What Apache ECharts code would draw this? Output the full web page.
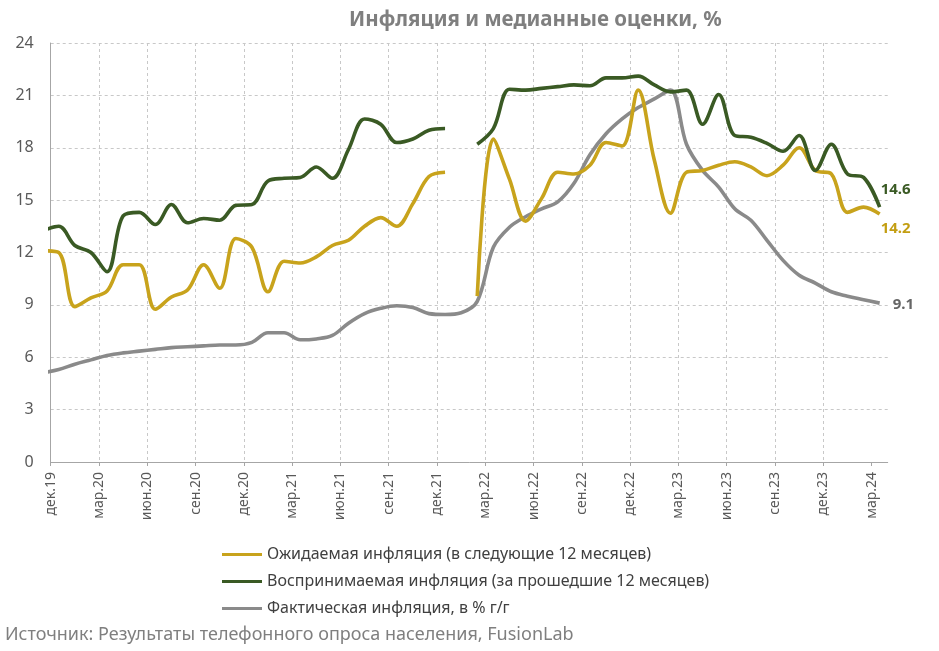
<!DOCTYPE html>
<html lang="ru">
<head>
<meta charset="UTF-8">
<title>Инфляция и медианные оценки</title>
<script src="https://cdn.jsdelivr.net/npm/echarts@6/dist/echarts.min.js"></script>
<style>
  html, body { margin: 0; padding: 0; background: #fff; }
  #main { width: 939px; height: 651px; }
</style>
</head>
<body>
<div id="main"></div>
<script>
// месяцы опроса (ноя.19 нужен только для начала линии у левого края)
var months = [
  'ноя.19', 'дек.19',
  'янв.20', 'фев.20', 'мар.20', 'апр.20', 'май.20', 'июн.20', 'июл.20', 'авг.20', 'сен.20', 'окт.20', 'ноя.20', 'дек.20',
  'янв.21', 'фев.21', 'мар.21', 'апр.21', 'май.21', 'июн.21', 'июл.21', 'авг.21', 'сен.21', 'окт.21', 'ноя.21', 'дек.21',
  'янв.22', 'фев.22', 'мар.22', 'апр.22', 'май.22', 'июн.22', 'июл.22', 'авг.22', 'сен.22', 'окт.22', 'ноя.22', 'дек.22',
  'янв.23', 'фев.23', 'мар.23', 'апр.23', 'май.23', 'июн.23', 'июл.23', 'авг.23', 'сен.23', 'окт.23', 'ноя.23', 'дек.23',
  'янв.24', 'фев.24', 'мар.24'
];

// подписи оси X (каждые 3 месяца, начиная с дек.19)
var tickLabels = ['дек.19', 'мар.20', 'июн.20', 'сен.20', 'дек.20', 'мар.21', 'июн.21', 'сен.21', 'дек.21',
  'мар.22', 'июн.22', 'сен.22', 'дек.22', 'мар.23', 'июн.23', 'сен.23', 'дек.23', 'мар.24'];

// Ожидаемая инфляция (в следующие 12 месяцев)
var expected = [
  12.1, 12.0,
  8.9, 9.4, 9.8, 11.3, 11.3, 8.75, 9.45, 9.85, 11.3, 9.95, 12.8, 12.3,
  9.75, 11.5, 11.4, 11.75, 12.4, 12.7, 13.5, 14.0, 13.5, 14.8, 16.35, 16.6,
  null, 9.5, 18.5, 16.2, 13.8, 15.1, 16.6, 16.5, 17.0, 18.3, 18.1, 21.3,
  17.3, 14.25, 16.6, 16.7, 17.0, 17.2, 16.9, 16.4, 17.0, 18.0, 16.7, 16.5,
  14.3, 14.6, 14.2
];

// Воспринимаемая инфляция (за прошедшие 12 месяцев)
var perceived = [
  13.25, 13.5,
  12.4, 12.0, 10.9, 14.1, 14.3, 13.6, 14.75, 13.7, 13.95, 13.85, 14.7, 14.75,
  16.1, 16.25, 16.3, 16.9, 16.25, 17.9, 19.65, 19.35, 18.3, 18.5, 19.0, 19.1,
  null, 18.2, 19.1, 21.35, 21.3, 21.4, 21.5, 21.6, 21.55, 22.0, 22.0, 22.1,
  21.6, 21.2, 21.3, 19.35, 21.05, 18.7, 18.6, 18.25, 17.8, 18.7, 16.7, 18.2,
  16.5, 16.3, 14.6
];

// Фактическая инфляция, в % г/г
var actual = [
  5.1, 5.3,
  5.6, 5.85, 6.1, 6.25, 6.35, 6.45, 6.55, 6.6, 6.65, 6.7, 6.7, 6.85,
  7.4, 7.4, 7.0, 7.05, 7.25, 7.95, 8.5, 8.8, 8.95, 8.85, 8.5, 8.45,
  8.55, 9.2, 12.3, 13.45, 14.05, 14.5, 14.9, 15.95, 17.6, 18.8, 19.65, 20.3,
  20.8, 21.3, 18.2, 16.7, 15.75, 14.5, 13.85, 12.7, 11.55, 10.7, 10.25, 9.75,
  9.5, 9.3, 9.1
];

var names = [
  'Ожидаемая инфляция (в следующие 12 месяцев)',
  'Воспринимаемая инфляция (за прошедшие 12 месяцев)',
  'Фактическая инфляция, в % г/г'
];
var colors = ['#C8A31C', '#3A5A24', '#8A8A8A'];
var labelColors = ['#C39E12', '#3A5A24', '#666666'];

// точки опроса - в середине месяца; ось начинается с 1 дек.19
function toPoints(values) {
  return values.map(function (v, k) {
    return [k - 0.5, v === null ? '-' : v];
  });
}

var tickValues = tickLabels.map(function (t, i) { return i * 3; });
var font = '"Noto Sans", "Open Sans", sans-serif';

var myChart = echarts.init(document.getElementById('main'));

function endLabel(idx, offset) {
  return {
    show: true,
    formatter: function (p) { return p.value[1].toFixed(1); },
    color: labelColors[idx],
    fontFamily: font,
    fontSize: 15,
    fontWeight: 'bold',
    distance: 1,
    offset: offset
  };
}

var series = [expected, perceived, actual].map(function (vals, idx) {
  return {
    name: names[idx],
    type: 'line',
    data: toPoints(vals),
    smooth: 0.35,
    symbol: 'none',
    clip: true,
    connectNulls: false,
    lineStyle: { width: 3.6, color: colors[idx] },
    itemStyle: { color: colors[idx] },
    endLabel: endLabel(idx, idx === 0 ? [0, 15] : idx === 1 ? [0, -17] : [12, 2]),
    z: idx === 2 ? 2 : 3
  };
});

myChart.setOption({
  backgroundColor: '#fff',
  animation: false,
  title: {
    text: 'Инфляция и медианные оценки, %',
    left: 344,
    top: 5,
    textStyle: { fontFamily: font, fontSize: 20.5, fontWeight: 'bold', color: '#7F7F7F' }
  },
  legend: {
    orient: 'vertical',
    left: 222,
    top: 545,
    padding: 0,
    itemWidth: 40,
    itemHeight: 3,
    itemGap: 8,
    icon: 'rect',
    data: names,
    textStyle: { fontFamily: font, fontSize: 16, color: '#404040', lineHeight: 19 }
  },
  grid: { left: 50.7, right: 51.3, top: 43, bottom: 189, containLabel: false },
  xAxis: {
    type: 'value',
    min: 0,
    max: 52,
    interval: 3,
    axisLine: { show: true, lineStyle: { color: '#A6A6A6', width: 1 } },
    axisTick: { show: true, length: 4, customValues: tickValues, lineStyle: { color: '#A6A6A6' } },
    axisLabel: {
      customValues: tickValues,
      rotate: 90,
      margin: 10,
      fontFamily: font,
      fontSize: 14,
      color: '#595959',
      formatter: function (v) { return tickLabels[Math.round(v / 3)] || ''; }
    },
    splitLine: {
      show: true,
      showMinLine: false,
      showMaxLine: false,
      lineStyle: { color: '#C8C8C8', type: [3, 3], width: 1 }
    }
  },
  yAxis: {
    type: 'value',
    min: 0,
    max: 24,
    interval: 3,
    axisLine: { show: true, lineStyle: { color: '#A6A6A6', width: 1 } },
    axisTick: { show: false },
    axisLabel: { margin: 17, fontFamily: font, fontSize: 16, color: '#595959' },
    splitLine: { show: true, lineStyle: { color: '#C8C8C8', type: [3, 3], width: 1 } }
  },
  series: series,
  graphic: [{
    type: 'text',
    left: 5,
    top: 626,
    style: {
      text: 'Источник: Результаты телефонного опроса населения, FusionLab',
      fontFamily: font,
      fontSize: 18,
      fill: '#7F7F7F'
    }
  }]
});
</script>
</body>
</html>
